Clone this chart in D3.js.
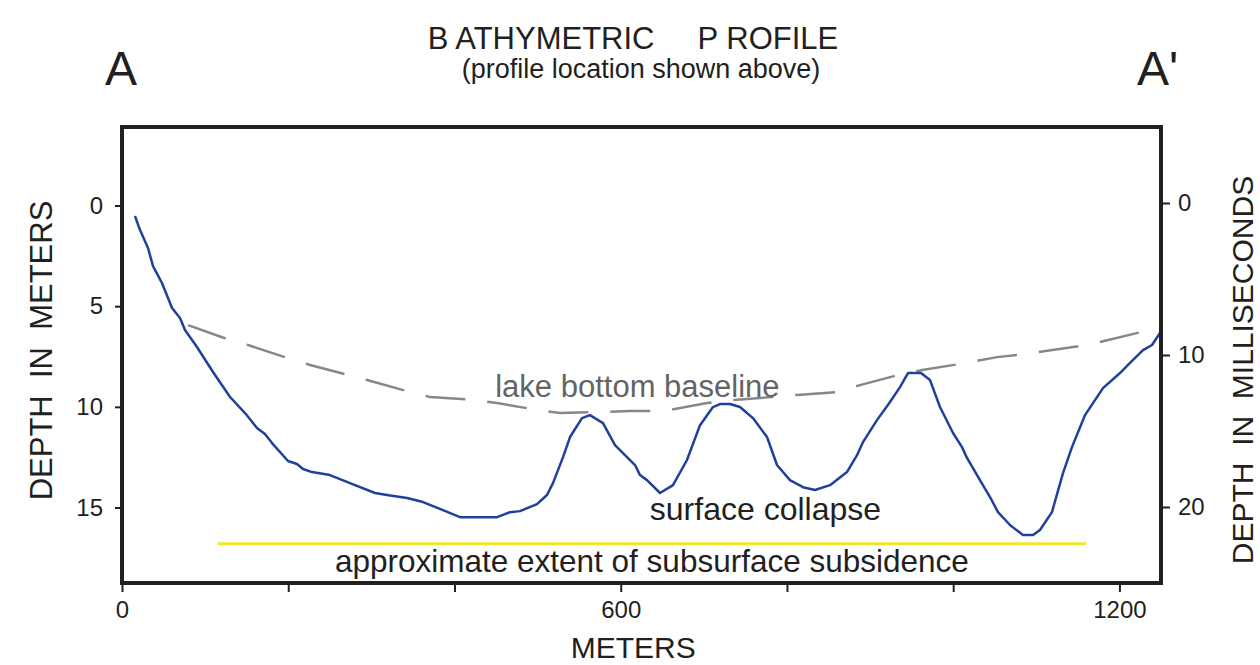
<!DOCTYPE html>
<html>
<head>
<meta charset="utf-8">
<script src="https://cdn.jsdelivr.net/npm/d3@7"></script>
<style>
  body { margin: 0; background: #fff; }
  svg { display: block; font-family: 'Liberation Sans', Arial, Helvetica, sans-serif; }
  .pre { white-space: pre; }
</style>
</head>
<body>
<div id="chart"></div>
<script>
// bathymetric profile, distance along line (m) vs depth (m)
const profileDist = [15.6, 21.7, 31.3, 37.3, 48.1, 60.2, 69.8, 75.8, 90.2, 109.5, 130, 148, 162.4, 172, 180.5,
  199.7, 210.5, 217.8, 228.6, 250.2, 274.3, 304.4, 318.8, 342.9, 362.1, 386.2, 406.6, 451.2, 466.8, 478.8,
  499.3, 511.3, 518.5, 530.6, 539, 553.4, 563, 578.7, 593.1, 617.2, 623.2, 631.6, 647.3, 662.9, 679.7,
  695.4, 711, 719.4, 731.5, 743.5, 759.1, 776, 788, 803.6, 819.3, 833.7, 851.8, 872.2, 884.3, 891.5,
  908.3, 924, 936, 945.6, 961.3, 972.1, 984.1, 999.8, 1010.6, 1016.6, 1032.2, 1044.3, 1053.9, 1068.3,
  1084, 1096, 1104.4, 1118.8, 1132.1, 1142.9, 1158.6, 1180.2, 1200.7, 1212.7, 1228.4, 1239.2, 1248.8]
const profileDepth = [0.52, 1.22, 2.11, 3.01, 3.85, 5.09, 5.59, 6.18, 7.03, 8.27, 9.51, 10.31, 11.05, 11.35, 11.8,
  12.69, 12.84, 13.09, 13.24, 13.39, 13.79, 14.28, 14.38, 14.53, 14.73, 15.13, 15.48, 15.48, 15.23, 15.18,
  14.83, 14.38, 13.79, 12.5, 11.5, 10.56, 10.41, 10.81, 11.9, 12.89, 13.39, 13.64, 14.28, 13.89, 12.64,
  10.91, 10.01, 9.86, 9.86, 10.01, 10.56, 11.5, 12.89, 13.64, 13.99, 14.13, 13.89, 13.24, 12.4, 11.75,
  10.66, 9.76, 9.02, 8.32, 8.32, 8.67, 10.01, 11.3, 12, 12.54, 13.64, 14.48, 15.23, 15.87,
  16.37, 16.37, 16.12, 15.23, 13.29, 12, 10.41, 9.07, 8.32, 7.82, 7.18, 6.93, 6.33]

// dashed lake bottom baseline
const baselineDist = [79.4, 126.3, 151.6, 199.7, 226.2, 294.8, 342.9, 370.6, 424.7, 451.2, 500.5, 527, 611.2,
  650.9, 703.8, 735.1, 783.2, 812.1, 860.2, 887.9, 933.6, 962.5, 1008.2, 1052.7, 1086.4, 1161, 1236.8]
const baselineDepth = [5.94, 6.63, 6.93, 7.58, 7.92, 8.67, 9.22, 9.51, 9.66, 9.81, 10.16, 10.31, 10.21,
  10.21, 9.81, 9.66, 9.51, 9.41, 9.27, 8.92, 8.42, 8.17, 7.87, 7.53, 7.38, 6.93, 6.18]

// extent of subsurface subsidence (m) and depth it is drawn at
const subsidenceExtent = [115, 1160]
const subsidenceDepth = 16.8

const xTicks = [0, 200, 400, 600, 800, 1000, 1200]
const xLabels = [0, 600, 1200]
const depthTicks = [0, 5, 10, 15]
const msTicks = [0, 10, 20]

const W = 1260, H = 665
const margin = { top: 127, right: 99, bottom: 82, left: 122 }
const innerW = W - margin.left - margin.right
const innerH = H - margin.top - margin.bottom

const svg = d3.select('#chart').append('svg').attr('width', W).attr('height', H)

const x = d3.scaleLinear().domain([0, 1250]).range([margin.left, margin.left + innerW])
const y = d3.scaleLinear().domain([-3.9, 18.75]).range([margin.top, margin.top + innerH])
const yMs = d3.scaleLinear().domain([-5, 25]).range([margin.top, margin.top + innerH])

const ink = '#231f20'

// titles
svg.append('text').attr('class', 'pre').attr('x', 633).attr('y', 49)
  .attr('text-anchor', 'middle').attr('font-size', 31).attr('fill', ink)
  .text('B ATHYMETRIC     P ROFILE')
svg.append('text').attr('x', 641).attr('y', 78)
  .attr('text-anchor', 'middle').attr('font-size', 27).attr('fill', ink)
  .text('(profile location shown above)')
svg.append('text').attr('x', 105).attr('y', 85).attr('font-size', 48).attr('fill', ink).text('A')
svg.append('text').attr('class', 'pre').attr('x', 1137).attr('y', 85).attr('font-size', 48).attr('fill', ink).text("A'")

// axes
const axisStyle = g => {
  g.select('.domain').remove()
  g.selectAll('.tick line').attr('stroke', ink).attr('stroke-width', 2)
  g.selectAll('.tick text').attr('fill', ink).attr('font-size', 24)
    .attr('font-family', "'Liberation Sans', Arial, Helvetica, sans-serif")
}

svg.append('g').attr('transform', `translate(${margin.left},0)`)
  .call(d3.axisLeft(y).tickValues(depthTicks).tickSize(7).tickPadding(12))
  .call(axisStyle)

svg.append('g').attr('transform', `translate(${margin.left + innerW},0)`)
  .call(d3.axisRight(yMs).tickValues(msTicks).tickSize(9).tickPadding(8))
  .call(axisStyle)

svg.append('g').attr('transform', `translate(0,${margin.top + innerH})`)
  .call(d3.axisBottom(x).tickValues(xTicks).tickSize(9).tickPadding(9)
    .tickFormat(d => (xLabels.includes(d) ? d : '')))
  .call(axisStyle)

svg.append('text').attr('class', 'pre')
  .attr('transform', `translate(52,${(y(0) + y(15)) / 2 - 6}) rotate(-90)`)
  .attr('text-anchor', 'middle').attr('font-size', 31).attr('fill', ink)
  .text('DEPTH  IN  METERS')
svg.append('text').attr('class', 'pre')
  .attr('transform', `translate(1253,${(margin.top + margin.top + innerH) / 2 + 15}) rotate(-90)`)
  .attr('text-anchor', 'middle').attr('font-size', 30).attr('fill', ink)
  .text('DEPTH  IN  MILLISECONDS')
svg.append('text').attr('x', x(615)).attr('y', 658)
  .attr('text-anchor', 'middle').attr('font-size', 30).attr('fill', ink)
  .text('METERS')

// subsidence extent
svg.append('line')
  .attr('x1', x(subsidenceExtent[0])).attr('x2', x(subsidenceExtent[1]))
  .attr('y1', y(subsidenceDepth)).attr('y2', y(subsidenceDepth))
  .attr('stroke', '#f2e62c').attr('stroke-width', 3)

// lake bottom baseline
const line = d3.line().x(d => x(d[0])).y(d => y(d[1])).curve(d3.curveLinear)
svg.append('path')
  .datum(d3.zip(baselineDist, baselineDepth))
  .attr('d', line)
  .attr('fill', 'none').attr('stroke', '#878787').attr('stroke-width', 2.5)
  .attr('stroke-dasharray', '40,22')

// profile
svg.append('path')
  .datum(d3.zip(profileDist, profileDepth))
  .attr('d', line)
  .attr('fill', 'none').attr('stroke', '#21409a').attr('stroke-width', 2.5)
  .attr('stroke-linejoin', 'round')

// annotations
svg.append('text').attr('x', x(449)).attr('y', y(9.5))
  .attr('font-size', 31).attr('fill', '#646464').text('lake bottom baseline')
svg.append('text').attr('x', x(635)).attr('y', y(15.6))
  .attr('font-size', 32).attr('fill', ink).text('surface collapse')
svg.append('text').attr('x', x((subsidenceExtent[0] + subsidenceExtent[1]) / 2)).attr('y', y(18.2))
  .attr('text-anchor', 'middle').attr('font-size', 31.5).attr('fill', ink)
  .text('approximate extent of subsurface subsidence')

// frame
svg.append('rect')
  .attr('x', margin.left).attr('y', margin.top).attr('width', innerW).attr('height', innerH)
  .attr('fill', 'none').attr('stroke', ink).attr('stroke-width', 4)
</script>
</body>
</html>
